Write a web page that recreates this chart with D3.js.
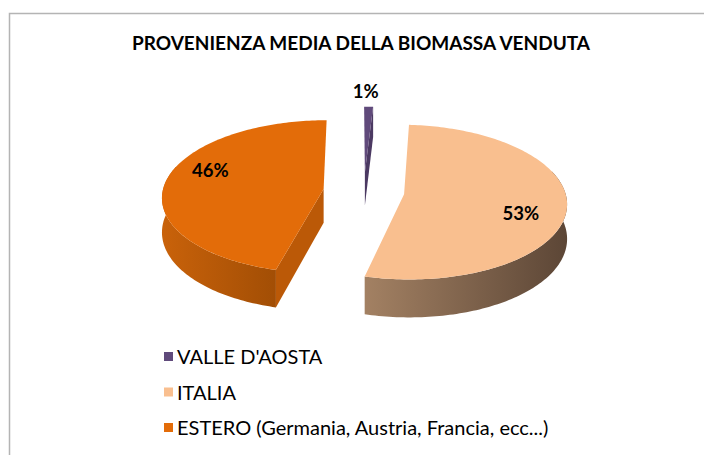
<!DOCTYPE html>
<html lang="it">
<head>
<meta charset="utf-8">
<title>Provenienza media della biomassa venduta</title>
<script src="https://cdn.jsdelivr.net/npm/d3@7"></script>
<style>
  body { margin: 0; background: #fff; }
  text { font-family: Lato, "Open Sans", sans-serif; }
</style>
</head>
<body>
<script>
// data
var title = "PROVENIENZA MEDIA DELLA BIOMASSA VENDUTA";
var categories = ["VALLE D'AOSTA", "ITALIA", "ESTERO (Germania, Austria, Francia, ecc...)"];
var values = [1, 53, 46];

// styles
var colors = ["#604A7B", "#F9BF8F", "#E36C09"];
var wallFrom = ["#5a4574", "#a38163", "#c9620a"];
var wallTo = ["#4a385f", "#5c4636", "#a24e05"];
var sideColors = ["#4b3962", "#8a6a50", "#bb5907"];
var labelDy = [0, 10, -12];

var w = 704, h = 455;
// 3D pie geometry: projection centre, pie offset, radii, thickness, explosion, perspective
var x0 = 356.6, y0 = 191.3, pieX = 7.2;
var rx = 161, ry = 76, depth = 34, explode = 40.6, persp = 0.1;

var svg = d3.select("body").append("svg")
  .attr("width", w).attr("height", h);

// chart frame
svg.append("rect")
  .attr("x", 9.5).attr("y", 13.5)
  .attr("width", 720).attr("height", 460)
  .attr("fill", "none").attr("stroke", "#b4b4b4").attr("stroke-width", 1.5);

svg.append("text")
  .attr("x", 361).attr("y", 50)
  .attr("text-anchor", "middle")
  .attr("font-size", "19px").attr("font-weight", "bold")
  .attr("fill", "#000")
  .text(title);

var pie = d3.pie().sort(null).value(function(d) { return d; });
var arcs = pie(values);

var defs = svg.append("defs");
arcs.forEach(function(a, i) {
  var g = defs.append("linearGradient").attr("id", "wall" + i);
  g.append("stop").attr("offset", "0%").attr("stop-color", wallFrom[i]);
  g.append("stop").attr("offset", "100%").attr("stop-color", wallTo[i]);
});

function mid(a) { return (a.startAngle + a.endAngle) / 2; }

// point on slice a at angle ang, radius fraction r, dropped by dz; perspective projected
function pt(a, ang, r, dz) {
  var m = mid(a);
  var X = pieX + explode * Math.sin(m) + r * rx * Math.sin(ang);
  var v = (explode * Math.cos(m) + r * rx * Math.cos(ang)) / rx;
  var s = 1 / (1 + persp * v);
  return [x0 + X * s, y0 + (-v * ry + (dz || 0)) * s];
}
function arcPts(a, a0, a1, dz) {
  var n = Math.max(2, Math.ceil(Math.abs(a1 - a0) / 0.02));
  return d3.range(n + 1).map(function(j) {
    return pt(a, a0 + (a1 - a0) * j / n, 1, dz);
  });
}
var line = d3.line();

function cutFace(g, a, ang, fill) {
  g.append("path")
    .attr("d", line([pt(a, ang, 0), pt(a, ang, 1), pt(a, ang, 1, depth), pt(a, ang, 0, depth)]) + "Z")
    .attr("fill", fill);
}

var slices = svg.append("g");
arcs.forEach(function(a, i) {
  var g = slices.append("g");
  var s = a.startAngle, e = a.endAngle;

  if (Math.sin(s) < 0) cutFace(g, a, s, sideColors[i]);
  if (Math.sin(e) > 0) cutFace(g, a, e, sideColors[i]);

  // outer wall (front part)
  var v0 = Math.max(s, Math.PI * 0.4), v1 = Math.min(e, Math.PI * 1.6);
  if (v1 > v0) {
    var pts = arcPts(a, v0, v1, 0).concat(arcPts(a, v1, v0, depth));
    g.append("path")
      .attr("d", line(pts) + "Z")
      .attr("fill", "url(#wall" + i + ")");
  }

  // top face
  g.append("path")
    .attr("d", line([pt(a, s, 0)].concat(arcPts(a, s, e, 0))) + "Z")
    .attr("fill", colors[i]);
});

// data labels
svg.append("g").selectAll("text")
  .data(arcs)
  .enter()
  .append("text")
  .attr("transform", function(a, i) {
    var p = a.data < 5 ? pt(a, mid(a), 1, -17) : pt(a, mid(a), 0.72);
    return "translate(" + (p[0] - (a.data < 5 ? 3 : 0)) + "," + (p[1] + labelDy[i]) + ")";
  })
  .attr("dy", "0.36em")
  .attr("text-anchor", "middle")
  .attr("font-size", "18.5px").attr("font-weight", "bold")
  .attr("fill", "#000")
  .text(function(a) { return a.data + "%"; });

// legend
var legend = svg.append("g").selectAll("g")
  .data(categories)
  .enter()
  .append("g")
  .attr("transform", function(d, i) { return "translate(164," + (357 + i * 35.5) + ")"; });

legend.append("rect")
  .attr("x", 0).attr("y", -5)
  .attr("width", 9).attr("height", 9)
  .attr("fill", function(d, i) { return colors[i]; });

legend.append("text")
  .attr("x", 13).attr("y", 7)
  .attr("font-size", "20px")
  .attr("fill", "#000")
  .text(function(d) { return d; });
</script>
</body>
</html>
